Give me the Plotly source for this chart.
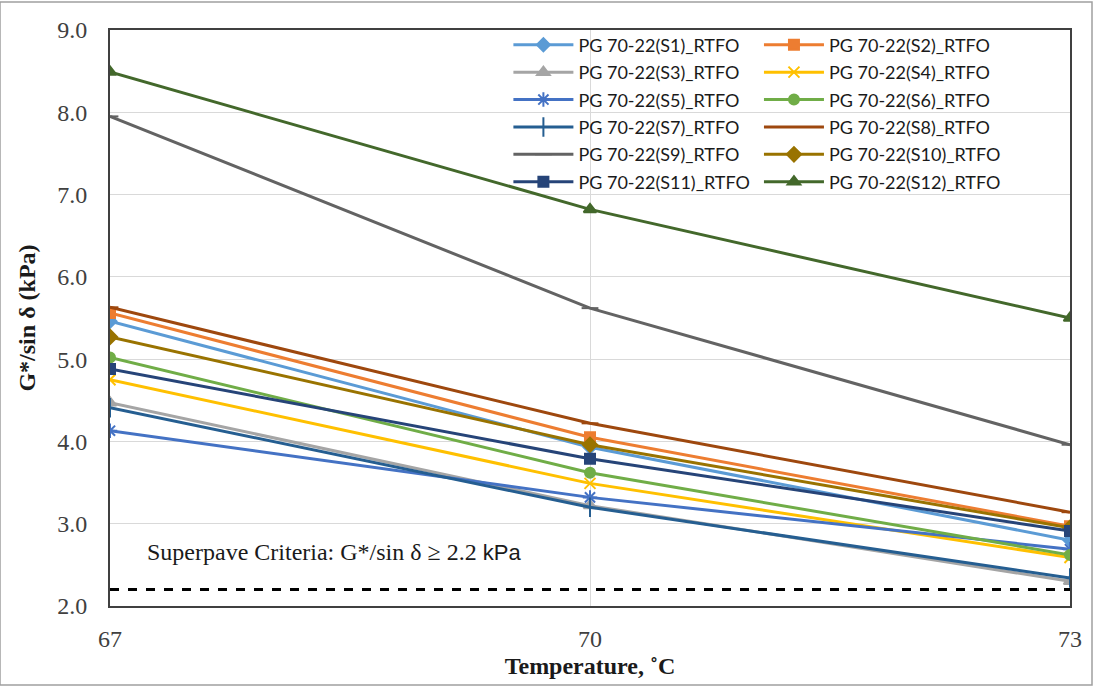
import plotly.graph_objects as go

temperature = [67, 70, 73]
series_names = [f"PG 70-22(S{i})_RTFO" for i in range(1, 13)]
s1 = [5.46, 3.93, 2.80]
s2 = [5.56, 4.05, 2.97]
s3 = [4.47, 3.22, 2.30]
s4 = [4.75, 3.49, 2.59]
s5 = [4.13, 3.32, 2.69]
s6 = [5.02, 3.62, 2.62]
s7 = [4.41, 3.20, 2.34]
s8 = [5.63, 4.22, 3.14]
s9 = [7.95, 5.62, 3.96]
s10 = [5.27, 3.96, 2.95]
s11 = [4.88, 3.79, 2.91]
s12 = [8.49, 6.82, 5.50]
values = [s1, s2, s3, s4, s5, s6, s7, s8, s9, s10, s11, s12]
criterion = 2.2

colors = ["#5B9BD5", "#ED7D31", "#A5A5A5", "#FFC000", "#4472C4", "#70AD47",
          "#255E91", "#9E480E", "#636363", "#997300", "#264478", "#43682B"]
symbols = ["diamond", "square", "triangle-up", "x-thin-open", "asterisk-open", "circle",
           "line-ns-open", "line-ew-open", "line-ew-open", "diamond", "square", "triangle-up"]
sizes = [10, 10, 11, 11, 12, 10, 14, 12, 12, 11, 10, 11]

fig = go.Figure()
for i, (name, vals) in enumerate(zip(series_names, values)):
    fig.add_trace(go.Scatter(
        x=temperature, y=vals, name=name, mode="lines+markers",
        line=dict(color=colors[i], width=3),
        marker=dict(symbol=symbols[i], size=sizes[i], color=colors[i],
                    line=dict(color=colors[i], width=2)),
        legend="legend" if i % 2 == 0 else "legend2",
        legendgroup=name,
    ))

fig.add_shape(type="line", xref="paper", yref="y", x0=0, x1=1, y0=criterion, y1=criterion,
              line=dict(color="black", width=3, dash="dash"))
fig.add_annotation(xref="paper", yref="y", x=0.036, y=2.66, xanchor="left", yanchor="middle",
                   text="Superpave Criteria: G*/sin δ ≥ 2.2 <span style='font-family:Liberation Sans;font-size:22px'>kPa</span>",
                   showarrow=False, font=dict(family="Liberation Serif", size=24, color="#1a1a1a"))
fig.add_shape(type="rect", xref="paper", yref="paper", x0=-110/960, x1=1+22/960,
              y0=-79/576, y1=1+28/576, line=dict(color="#a0a0a0", width=1.5))

legend_common = dict(font=dict(family="Lato", size=18, color="#1a1a1a"),
                     bgcolor="rgba(0,0,0,0)", borderwidth=0, itemwidth=60,
                     tracegroupgap=1, yanchor="top", y=1.006, xanchor="left")
fig.update_layout(
    width=1094, height=687,
    margin=dict(l=110, r=24, t=30, b=81),
    plot_bgcolor="white", paper_bgcolor="white",
    showlegend=True,
    legend=dict(x=0.415, **legend_common),
    legend2=dict(x=0.676, **legend_common),
    xaxis=dict(range=[67, 73], tickvals=temperature, showgrid=True, gridcolor="#d9d9d9",
               showline=True, linecolor="#404040", linewidth=2, mirror=True, zeroline=False,
               ticks="", ticklabelstandoff=10,
               tickfont=dict(family="Liberation Serif", size=24, color="#404040"),
               title=dict(text="<b>Temperature, ˚C</b>", standoff=6,
                          font=dict(family="Liberation Serif", size=24, color="#1a1a1a"))),
    yaxis=dict(range=[2, 9], dtick=1, tickformat=".1f", showgrid=True, gridcolor="#d9d9d9",
               showline=True, linecolor="#404040", linewidth=2, mirror=True, zeroline=False,
               ticks="", ticklabelstandoff=16,
               tickfont=dict(family="Liberation Serif", size=24, color="#404040"),
               title=dict(text="<b>G*/sin δ (kPa)</b>", standoff=15,
                          font=dict(family="Liberation Serif", size=24, color="#1a1a1a"))),
)
fig.write_html("out.html")
